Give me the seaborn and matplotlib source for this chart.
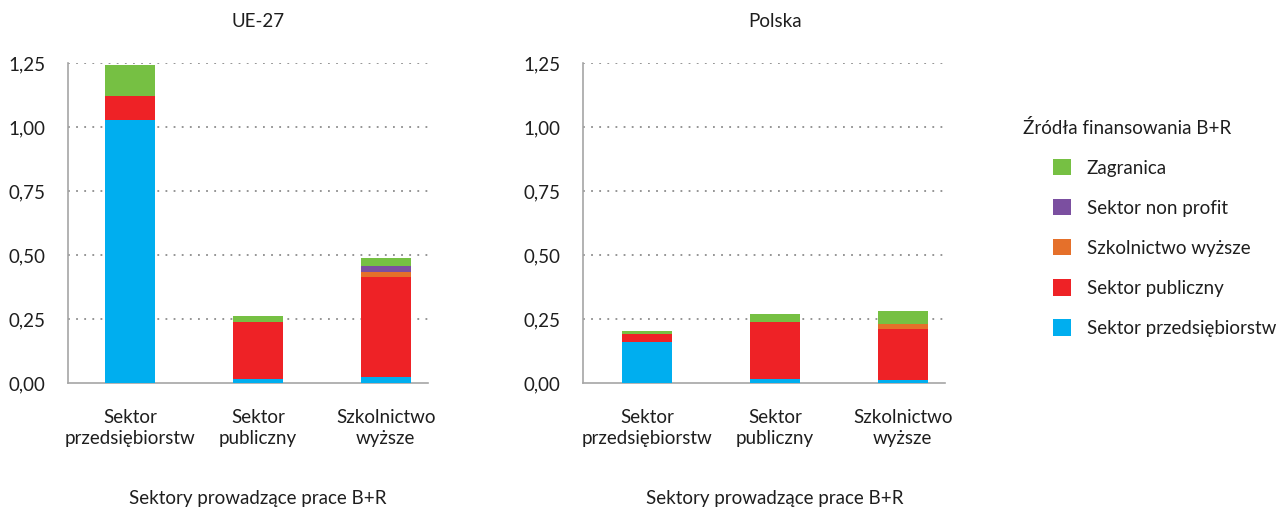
import matplotlib
matplotlib.use("Agg")
import matplotlib.pyplot as plt
import seaborn as sns
import numpy as np
import pandas as pd
from matplotlib.patches import Patch

categories = ["Sektor\nprzedsiębiorstw", "Sektor\npubliczny", "Szkolnictwo\nwyższe"]
sources = ["Sektor przedsiębiorstw", "Sektor publiczny", "Szkolnictwo wyższe",
           "Sektor non profit", "Zagranica"]
colors = ["#00AEEF", "#EE2226", "#E5702A", "#7B4FA0", "#76C043"]

# values per source (rows follow `sources`), columns follow `categories`
ue_przedsiebiorstw = [1.027, 0.016, 0.023]
ue_publiczny = [0.094, 0.223, 0.392]
ue_szkolnictwo = [0.000, 0.000, 0.019]
ue_nonprofit = [0.000, 0.000, 0.023]
ue_zagranica = [0.121, 0.023, 0.032]

pl_przedsiebiorstw = [0.160, 0.016, 0.012]
pl_publiczny = [0.033, 0.224, 0.199]
pl_szkolnictwo = [0.000, 0.000, 0.019]
pl_nonprofit = [0.000, 0.000, 0.000]
pl_zagranica = [0.010, 0.030, 0.051]

panels = [
    ("UE-27", [ue_przedsiebiorstw, ue_publiczny, ue_szkolnictwo, ue_nonprofit, ue_zagranica]),
    ("Polska", [pl_przedsiebiorstw, pl_publiczny, pl_szkolnictwo, pl_nonprofit, pl_zagranica]),
]

sns.set_style("white")
plt.rcParams["font.family"] = ["Lato", "DejaVu Sans"]
FS = 13.5
TC = "#1e1e1e"
plt.rcParams["font.size"] = FS

fig = plt.figure(figsize=(12.83, 5.08), dpi=100)
W, H = 1283, 508
axes_px = [(68, 428), (583, 945)]
xlims = [(-0.484, 2.33), (-0.5, 2.33)]
top_px, bot_px = 63, 383

for (title, layers), (x0, x1), XLIM in zip(panels, axes_px, xlims):
    ax = fig.add_axes([x0 / W, 1 - bot_px / H, (x1 - x0) / W, (bot_px - top_px) / H])
    cum = np.cumsum(np.array(layers), axis=0)
    for i in range(len(layers) - 1, -1, -1):
        df = pd.DataFrame({"cat": categories, "val": cum[i]})
        sns.barplot(data=df, x="cat", y="val", color=colors[i], saturation=1,
                    width=0.39, linewidth=0, ax=ax, zorder=3)
    ax.set_xlim(*XLIM)
    ax.set_ylim(0, 1.25)
    center_frac = (1 - XLIM[0]) / (XLIM[1] - XLIM[0])
    ticks = [0, 0.25, 0.5, 0.75, 1.0, 1.25]
    ax.set_yticks(ticks)
    ax.set_yticklabels([f"{t:.2f}".replace(".", ",") for t in ticks], fontsize=FS, color=TC)
    ax.set_xticks(range(len(categories)))
    ax.set_xticklabels(categories, fontsize=FS, color=TC, linespacing=1.28)
    for t in ticks[1:]:
        ax.axhline(t, color="#8c8c8c", linestyle=(0, (1, 3.5)), linewidth=1.3, zorder=1)
    for s in ["top", "right"]:
        ax.spines[s].set_visible(False)
    for s in ["left", "bottom"]:
        ax.spines[s].set_color("#a6a6a6")
        ax.spines[s].set_linewidth(1.2)
    ax.tick_params(axis="y", direction="in", length=3, color="#a6a6a6", pad=16)
    ax.tick_params(axis="x", length=0, pad=18.5)
    ax.set_title(title, fontsize=FS, pad=26, color=TC, x=center_frac)
    ax.set_xlabel("Sektory prowadzące prace B+R", fontsize=FS, labelpad=31, color=TC)
    ax.xaxis.label.set_x(center_frac)
    ax.set_ylabel("")

fig.text(1023 / W, 1 - 128 / H, "Źródła finansowania B+R", fontsize=FS,
         va="center", ha="left", color=TC)
handles = [Patch(facecolor=colors[i], edgecolor="none", label=sources[i]) for i in range(4, -1, -1)]
leg = fig.legend(handles=handles, loc="upper left", bbox_to_anchor=(1053 / W, 1 - 159 / H),
                 frameon=False, fontsize=FS, handlelength=0.96, handleheight=0.96,
                 handletextpad=0.85, labelspacing=1.2, borderaxespad=0, borderpad=0)
for t in leg.get_texts():
    t.set_color(TC)

fig.savefig("out.png", dpi=100)
